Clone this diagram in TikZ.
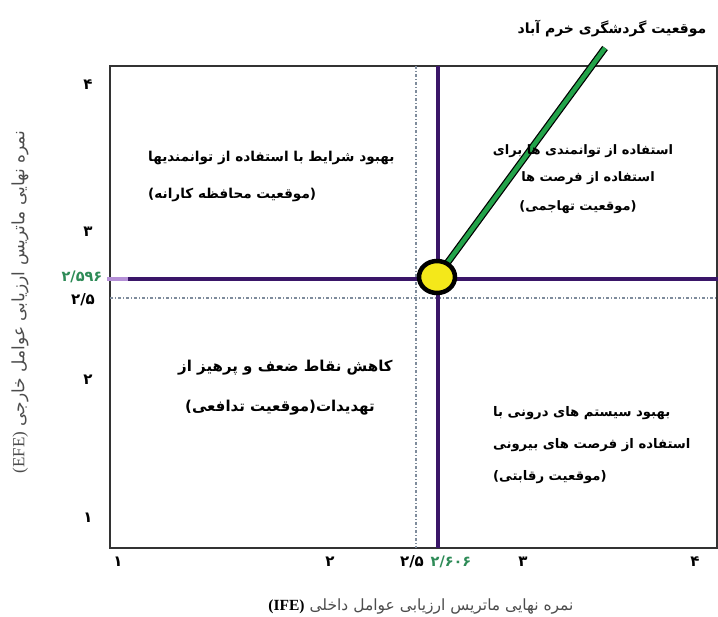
\documentclass[tikz,border=0pt]{standalone}
\usepackage{fontspec}
\usetikzlibrary{shapes.geometric}
\TeXXeTstate=1
\newfontfamily\fa[Script=Arabic]{DejaVu Sans}
\newfontfamily\nm{DejaVu Sans}
\newfontfamily\lat{Liberation Serif}
\definecolor{purp}{HTML}{3A1668}
\definecolor{lpurp}{HTML}{B48FD6}
\definecolor{dashc}{HTML}{7F8C9C}
\definecolor{grn}{HTML}{23A34A}
\definecolor{numg}{HTML}{2E8B57}
\definecolor{yel}{HTML}{F4E81A}
\begin{document}
\begin{tikzpicture}[x=1pt,y=-1pt,
  qt/.style={font=\fa\bfseries\fontsize{13.6}{15}\selectfont, inner sep=0pt},
  ttl/.style={font=\fa\bfseries\fontsize{14}{16}\selectfont, inner sep=0pt},
  ax/.style={font=\fa\fontsize{15.5}{17}\selectfont, text=black!70, inner sep=0pt},
  num/.style={font=\nm\bfseries\fontsize{15}{17}\selectfont, inner sep=0pt},
  gnum/.style={font=\nm\bfseries\fontsize{14.5}{16}\selectfont, text=numg, inner sep=0pt},
  frame/.style={draw=black!80, line width=1.8pt},
  pline/.style={draw=purp, line width=3.5pt},
  dline/.style={draw=dashc, line width=1.2pt, dash pattern=on 3pt off 2pt on 1pt off 2pt}]
\useasboundingbox (0,0) rectangle (718,617);
% frame
\coordinate (tl) at (110,66);
\coordinate (br) at (717,548);
\draw[frame] (tl) rectangle (br);
% dashed reference lines
\coordinate (dh1) at (110,298);
\coordinate (dh2) at (718,298);
\coordinate (dv1) at (416,66);
\coordinate (dv2) at (416,548);
\draw[dline] (dh1) -- (dh2);
\draw[dline] (dv1) -- (dv2);
% purple lines
\coordinate (ph0) at (107,279);
\coordinate (ph1) at (128,279);
\coordinate (ph2) at (718,279);
\coordinate (pv1) at (438,66);
\coordinate (pv2) at (438,548);
\draw[pline] (ph1) -- (ph2);
\draw[draw=lpurp, line width=3.5pt] (ph0) -- (ph1);
\draw[pline] (pv1) -- (pv2);
% green line and point
\coordinate (gtop) at (605,48);
\coordinate (gbot) at (437,277);
\draw[black, line width=7pt] (gbot) -- (gtop);
\draw[grn, line width=4.5pt] (gbot) -- (gtop);
\node[ellipse, minimum width=36pt, minimum height=32pt, inner sep=0pt, fill=yel, draw=black, line width=4.5pt] (pt) at (gbot) {};
% title
\node[ttl] (title) at (612,29) {\beginR موقعیت گردشگری خرم آباد\endR};
% quadrant texts
\node[qt, anchor=west] (q1a) at (148,158) {\beginR بهبود شرایط با استفاده از توانمندیها\endR};
\node[qt, anchor=west] (q1b) at (148,195) {\beginR (موقعیت محافظه کارانه)\endR};
\node[qt, font=\fa\bfseries\fontsize{13}{15}\selectfont] (q2a) at (583,151) {\beginR استفاده از توانمندی ها برای\endR};
\node[qt, font=\fa\bfseries\fontsize{13}{15}\selectfont] (q2b) at (588,178) {\beginR استفاده از فرصت ها\endR};
\node[qt, font=\fa\bfseries\fontsize{13}{15}\selectfont] (q2c) at (578,207) {\beginR (موقعیت تهاجمی)\endR};
\node[qt, anchor=west, font=\fa\bfseries\fontsize{15}{17}\selectfont] (q3a) at (178,368) {\beginR کاهش نقاط ضعف و پرهیز از\endR};
\node[qt, anchor=west, font=\fa\bfseries\fontsize{15}{17}\selectfont] (q3b) at (185,408) {\beginR تهدیدات(موقعیت تدافعی)\endR};
\node[qt, anchor=west, font=\fa\bfseries\fontsize{13.2}{15}\selectfont] (q4a) at (493,413) {\beginR بهبود سیستم های درونی با\endR};
\node[qt, anchor=west, font=\fa\bfseries\fontsize{13.2}{15}\selectfont] (q4b) at (493,445) {\beginR استفاده از فرصت های بیرونی\endR};
\node[qt, anchor=west, font=\fa\bfseries\fontsize{13.2}{15}\selectfont] (q4c) at (493,477) {\beginR (موقعیت رقابتی)\endR};
% y axis numbers
\node[num] (y4) at (88,85) {۴};
\node[num] (y3) at (88,232) {۳};
\node[gnum] (y2596) at (82,277) {۲/۵۹۶};
\node[num] (y25) at (83,300) {۲/۵};
\node[num] (y2) at (88,380) {۲};
\node[num] (y1) at (88,518) {۱};
% x axis numbers
\node[num] (x1) at (118,562) {۱};
\node[num] (x2) at (330,562) {۲};
\node[num] (x25) at (412,562) {۲/۵};
\node[gnum] (x2606) at (451,562) {۲/۶۰۶};
\node[num] (x3) at (523,562) {۳};
\node[num] (x4) at (695,562) {۴};
% axis titles
\node[ax] (xt) at (421,607) {\beginR نمره نهایی ماتریس ارزیابی عوامل داخلی \beginL{\lat\bfseries\color{black}(IFE)}\endL\endR};
\node[ax, rotate=90, font=\fa\fontsize{17}{19}\selectfont] (yt) at (20,302) {\beginR نمره نهایی ماتریس ارزیابی عوامل خارجی \beginL{\lat(EFE)}\endL\endR};
\end{tikzpicture}
\end{document}
